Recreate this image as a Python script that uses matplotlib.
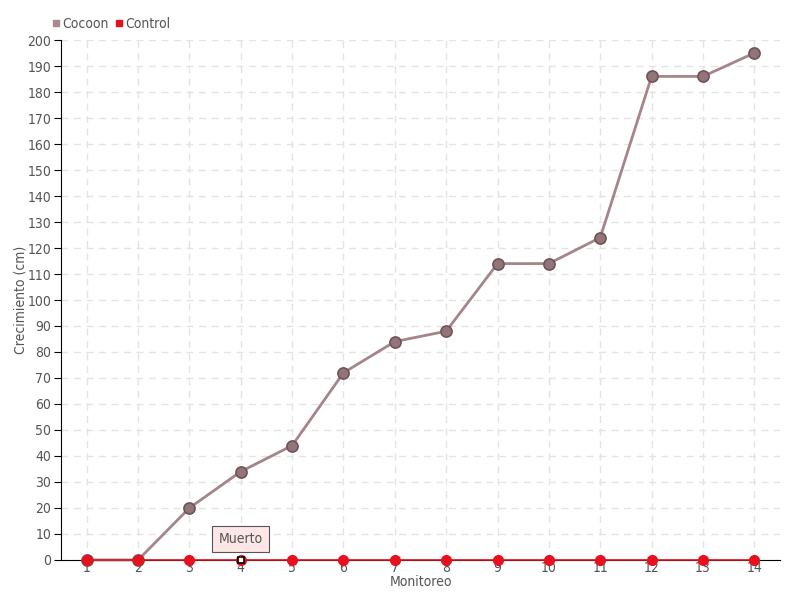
import matplotlib
matplotlib.use("Agg")
import matplotlib.pyplot as plt
from matplotlib.lines import Line2D

monitoreo = list(range(1, 15))
cocoon = [0, 0, 20, 34, 44, 72, 84, 88, 114, 114, 124, 186, 186, 195]
control = [0] * 14
muerto_idx = 3  # monitoreo 4
y_ticks = list(range(0, 201, 10))

plt.rcParams['font.family'] = ['DejaVu Sans']
plt.rcParams['font.stretch'] = 'condensed'
txt = '#555555'

fig = plt.figure(figsize=(8, 6), dpi=100)
ax = fig.add_axes([0.07625, 0.0667, 0.89875, 0.8666])

ax.set_xlim(0.5, 14.5)
ax.set_ylim(0, 200)
ax.set_yticks(y_ticks)
ax.set_xticks(monitoreo)
ax.grid(True, color='#e4e4e4', linestyle=(0, (5, 4)), linewidth=1)
ax.set_axisbelow(True)

for s in ['top', 'right']:
    ax.spines[s].set_visible(False)
ax.spines['left'].set_color('black')
ax.spines['bottom'].set_color('black')
ax.tick_params(axis='y', colors=txt, labelsize=10, length=5, color='black', pad=2)
ax.tick_params(axis='x', colors=txt, labelsize=10, length=0, pad=1)

ax.plot(monitoreo, cocoon, color='#a58589', linewidth=2.0, zorder=4,
        marker='o', markersize=8, markerfacecolor='#937579', markeredgecolor='#6e5358',
        markeredgewidth=1.2, clip_on=False)
ax.plot(monitoreo, control, color='#e00f1c', linewidth=1.2, zorder=5,
        marker='o', markersize=7, markerfacecolor='#e8101e', markeredgecolor='#e8101e',
        clip_on=False)
ax.plot([monitoreo[muerto_idx]], [control[muerto_idx]], marker='s', markersize=5,
        markerfacecolor='white', markeredgecolor='black', markeredgewidth=1.2, zorder=6,
        clip_on=False)
ax.annotate('Muerto', xy=(monitoreo[muerto_idx], control[muerto_idx]), xytext=(0, 15),
            textcoords='offset points', ha='center', va='center', fontsize=10, color=txt,
            bbox=dict(boxstyle='square,pad=0.45', fc='#fde6e6', ec='#555555', lw=0.8),
            arrowprops=dict(arrowstyle='-', color='#555555', lw=0.8), zorder=7)

ax.set_xlabel('Monitoreo', color=txt, fontsize=10, labelpad=0)
ax.set_ylabel('Crecimiento (cm)', color=txt, fontsize=10, labelpad=0)

handles = [Line2D([], [], marker='s', linestyle='none', color='#a58a8e', markersize=5),
           Line2D([], [], marker='s', linestyle='none', color='#e8101e', markersize=5)]
fig.legend(handles, ['Cocoon', 'Control'], loc='upper left', bbox_to_anchor=(0.048, 0.993),
           ncol=2, frameon=False, fontsize=10, handletextpad=0.1, columnspacing=0.4,
           handlelength=0.7, labelcolor=txt)

fig.savefig('out.png', dpi=100)
